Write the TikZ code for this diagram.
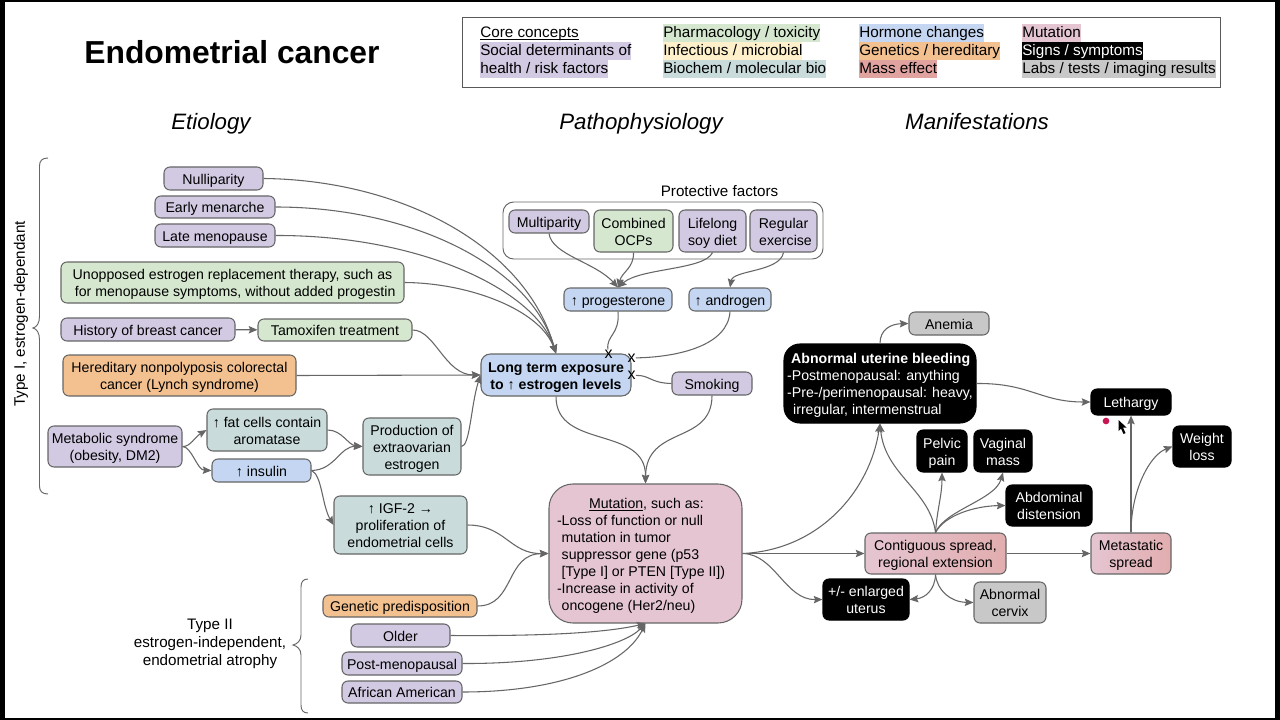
\documentclass[tikz,border=0pt]{standalone}
\usepackage{fontspec}
\setmainfont{Liberation Sans}
\usetikzlibrary{arrows.meta}
\definecolor{cpurple}{HTML}{D2CAE2}
\definecolor{cgreen}{HTML}{D5E8CF}
\definecolor{cblue}{HTML}{C4D6F1}
\definecolor{corange}{HTML}{F3C08F}
\definecolor{cteal}{HTML}{C9DCDB}
\definecolor{cpink}{HTML}{E5C5D2}
\definecolor{cgrey}{HTML}{C8C8C8}
\definecolor{cred}{HTML}{E0A3A0}
\definecolor{cyellow}{HTML}{FDF0CB}
\definecolor{cedge}{HTML}{666666}
\tikzset{
  bx/.style={draw=cedge,line width=0.8pt,rounded corners=4.5pt,align=center,inner sep=0pt,font=\fontsize{10.6}{12.7}\selectfont},
  purple/.style={bx,fill=cpurple},
  green/.style={bx,fill=cgreen},
  blue/.style={bx,fill=cblue},
  orange/.style={bx,fill=corange},
  teal/.style={bx,fill=cteal},
  pink/.style={bx,fill=cpink},
  grey/.style={bx,fill=cgrey},
  spread/.style={bx,left color=cpink,right color=cred!70!cpink},
  sign/.style={bx,draw=black,fill=black,text=white},
  conn/.style={draw=cedge,line width=0.8pt,-{Stealth[length=6.5pt,width=5.5pt,inset=1pt]}},
  plain/.style={draw=cedge,line width=0.8pt},
  brace/.style={draw=cedge,line width=0.7pt},
  lg/.style={anchor=west,inner sep=0pt,text height=10.5pt,text depth=3pt,font=\fontsize{11.45}{13.5}\selectfont},
  hd/.style={anchor=base,font=\fontsize{16.7}{20}\selectfont\itshape},
  lblb/.style={align=center,font=\fontsize{11.4}{13.5}\selectfont},
  cross/.style={inner sep=0pt,font=\fontsize{12}{12}\selectfont}
}
% underline that stays close to the baseline
\newcommand\ulin[1]{\setbox0\hbox{#1}\rlap{\rule[-1.6pt]{\wd0}{0.6pt}}\box0 }
% box given by its pixel corners
\newcommand\pbox[7]{%
  \pgfmathsetmacro\pbw{(#5-#3)*0.75}\pgfmathsetmacro\pbh{(#6-#4)*0.75}%
  \node[#2,minimum width=\pbw pt,minimum height=\pbh pt] (#1) at ({(#3+#5)/2},{(#4+#6)/2}) {\rule{0pt}{11pt}#7\rule[-2.4pt]{0pt}{0pt}};}
\begin{document}
\begin{tikzpicture}[x=0.75pt,y=-0.75pt]
\useasboundingbox (0,0) rectangle (1280,720);
\fill[white] (0,0) rectangle (1280,720);
\fill[black] (0,0) rectangle (5,720);
\fill[black] (1275,0) rectangle (1280,720);
\fill[black] (0,718) rectangle (1280,720);
\fill[black] (0,0) rectangle (1280,2.5);
% title
\node[font=\fontsize{23.85}{28}\selectfont\bfseries] (title) at (232,52) {Endometrial cancer};
% legend
\node[draw=black!65,line width=0.7pt,minimum width=568.5pt,minimum height=53pt,inner sep=0pt] (legend) at (841,52.5) {};
\node[lg,fill=cpurple] (l2) at (480,51) {Social determinants of};
\node[lg,fill=cpurple] (l3) at (480,69) {health / risk factors};
\node[lg] (l1) at (480,33) {\ulin{Core concepts}};
\node[lg,fill=cgreen] (l4) at (663,33) {Pharmacology / toxicity};
\node[lg,fill=cyellow] (l5) at (663,51) {Infectious / microbial};
\node[lg,fill=cteal] (l6) at (663,69) {Biochem / molecular bio};
\node[lg,fill=cblue] (l7) at (859,33) {Hormone changes};
\node[lg,fill=corange] (l8) at (859,51) {Genetics / hereditary};
\node[lg,fill=cred] (l9) at (859,69) {Mass effect};
\node[lg,fill=cpink] (l10) at (1022,33) {Mutation};
\node[lg,fill=black,text=white] (l11) at (1022,51) {Signs / symptoms};
\node[lg,fill=cgrey] (l12) at (1022,69) {Labs / tests / imaging results};
% headers
\node[hd] (h1) at (211,129.5) {Etiology};
\node[hd] (h2) at (641,129.5) {Pathophysiology};
\node[hd] (h3) at (977,129.5) {Manifestations};
% braces
\draw[brace] (48,158) .. controls (42,158) and (39.5,161) .. (39.5,166) -- (39.5,316) .. controls (39.5,323) and (37,327) .. (33,328) .. controls (37,329) and (39.5,333) .. (39.5,340) -- (39.5,486) .. controls (39.5,491) and (42,494) .. (48,494);
\draw[brace] (308,579) .. controls (303,579) and (301,582) .. (301,587) -- (301,635) .. controls (301,641) and (297,644) .. (293,645) .. controls (297,646) and (301,649) .. (301,655) -- (301,705) .. controls (301,710) and (303,713) .. (308,713);
\node[rotate=90,lblb] (t1) at (21,314) {Type I, estrogen-dependant};
\node[lblb] (t2) at (210,644) {Type II\\estrogen-independent,\\endometrial atrophy};
% protective container
\node[draw=cedge,line width=0.7pt,rounded corners=8pt,minimum width=240pt,minimum height=42.75pt,inner sep=0pt] (prot) at (663,230.5) {};
\node[lblb] (protl) at (719.5,191.5) {Protective factors};
% boxes
\pbox{null}{purple}{164}{167}{263}{190}{Nulliparity}
\pbox{early}{purple}{155}{196}{275}{218}{Early menarche}
\pbox{late}{purple}{155}{224}{275}{247}{Late menopause}
\pbox{unop}{green}{61}{262}{404}{303}{Unopposed estrogen replacement therapy, such as\\\hspace*{4pt}for menopause symptoms, without added progestin}
\pbox{hist}{purple}{61}{318}{235}{341}{History of breast cancer}
\pbox{tamo}{green}{258}{319}{412}{341}{Tamoxifen treatment}
\pbox{lynch}{orange}{63}{355}{296}{396}{Hereditary nonpolyposis colorectal\\cancer (Lynch syndrome)}
\pbox{meta}{purple}{48}{426}{182}{467}{Metabolic syndrome\\(obesity, DM2)}
\pbox{fat}{teal}{207}{409}{327}{451}{↑ fat cells contain\\aromatase}
\pbox{ins}{blue}{212}{459}{311}{482}{↑ insulin}
\pbox{prod}{teal}{363}{418}{461}{475}{Production of\\extraovarian\\estrogen}
\pbox{igf}{teal}{334}{496}{467}{554}{↑ IGF-2 →\\proliferation of\\endometrial cells}
\pbox{gene}{orange}{323}{595}{477}{617}{Genetic predisposition}
\pbox{old}{purple}{351}{624}{450}{647}{Older}
\pbox{post}{purple}{342}{652}{462}{675}{Post-menopausal}
\pbox{afr}{purple}{342}{681}{462}{703}{African American}
\pbox{muta}{pink,rounded corners=18pt,align=left}{549}{484}{742}{623}{\hspace*{24pt}\ulin{Mutation}, such as:\\-Loss of function or null\\\hspace*{3.5pt}mutation in tumor\\\hspace*{3.5pt}suppressor gene (p53\\\hspace*{3.5pt}[Type I] or PTEN [Type II])\rule{6.7pt}{0pt}\\-Increase in activity of\\\hspace*{3.5pt}oncogene (Her2/neu)}
\pbox{multi}{purple}{509}{210}{589}{233}{Multiparity}
\pbox{ocp}{green}{594}{210}{673}{252}{Combined\\OCPs}
\pbox{soy}{purple}{679}{210}{746}{252}{Lifelong\\soy diet}
\pbox{exer}{purple}{750}{210}{817}{252}{Regular\\\hspace*{3pt}exercise}
\pbox{prog}{blue}{564}{288}{672}{311}{↑ progesterone}
\pbox{andr}{blue}{689}{288}{771}{311}{↑ androgen}
\pbox{long}{blue,rounded corners=7pt}{481}{354}{631}{396}{\bfseries Long term exposure\\\bfseries to ↑ estrogen levels}
\pbox{smok}{purple}{672}{372}{752}{395}{Smoking}
\pbox{anem}{grey}{909}{312}{989}{335}{Anemia}
\pbox{aub}{sign,rounded corners=12pt,align=left}{784}{344}{976}{423}{\hspace*{3pt}\bfseries Abnormal uterine bleeding\\-Postmenopausal: anything\\-Pre-/perimenopausal: heavy,\\\hspace*{4.5pt}irregular, intermenstrual}
\pbox{leth}{sign}{1091}{389}{1171}{415}{Lethargy}
\pbox{pelv}{sign}{917}{430}{967}{472}{Pelvic\\pain}
\pbox{vagi}{sign}{974}{430}{1032}{472}{Vaginal\\mass}
\pbox{abdo}{sign}{1006}{485}{1092}{526}{Abdominal\\distension}
\pbox{weig}{sign}{1173}{426}{1231}{467}{Weight\\loss}
\pbox{cont}{spread}{865}{533}{1006}{574}{Contiguous spread,\\regional extension}
\pbox{mets}{spread}{1091}{533}{1171}{574}{Metastatic\\spread}
\pbox{enla}{sign}{823}{579}{909}{620}{+/- enlarged\\uterus}
\pbox{cerv}{grey}{974}{582}{1046}{623}{Abnormal\\cervix}
% blocked-pathway marks
\node[cross] (x1) at (608.5,354) {x};
\node[cross] (x2) at (631.5,358) {x};
\node[cross] (x3) at (631.5,375.5) {x};
% connectors into long-term exposure
\draw[conn] (null.east) .. controls (400,180) and (525,245) .. (long.north);
\draw[conn] (early.east) .. controls (410,207) and (530,265) .. (long.north);
\draw[conn] (late.east) .. controls (420,235) and (535,290) .. (long.north);
\draw[conn] (unop.east) .. controls (470,283) and (540,310) .. (long.north);
\draw[conn] (tamo.east) .. controls (435,330) and (445,375) .. (long.west);
\draw[conn] (lynch.east) -- (long.west);
\draw[conn] (prod.east) .. controls (470,446) and (471,405) .. (long.west);
\draw[conn] (hist) -- (tamo);
\draw[conn] (meta.east) .. controls (190,447) and (195,437) .. (fat.west);
\draw[conn] (meta.east) .. controls (192,447) and (197,470) .. (ins.west);
\draw[conn] (fat.east) .. controls (342,430) and (348,445) .. (prod.west);
\draw[conn] (ins.east) .. controls (335,470) and (340,446) .. (prod.west);
\draw[conn] (ins.east) .. controls (322,475) and (322,505) .. (igf.west);
% into mutation
\draw[conn] (igf.east) .. controls (505,525) and (510,554) .. (muta.west);
\draw[conn] (gene.east) .. controls (515,606) and (505,554) .. (muta.west);
\draw[conn] (old.east) .. controls (530,636) and (600,634) .. (muta.south);
\draw[conn] (post.east) .. controls (560,664) and (625,645) .. (muta.south);
\draw[conn] (afr.east) .. controls (560,692) and (625,665) .. (muta.south);
\draw[conn] (long.south) .. controls (556,450) and (646,425) .. (muta.north);
\draw[conn] (smok.south) .. controls (712,445) and (646,425) .. (muta.north);
% protective factors
\draw[conn] (multi.south) .. controls (552,255) and (595,262) .. (prog.north);
\draw[conn] (ocp.south) .. controls (634,268) and (622,272) .. (prog.north);
\draw[conn] (soy.south) .. controls (705,270) and (640,268) .. (prog.north);
\draw[conn] (exer.south) .. controls (780,272) and (733,270) .. (andr.north);
\draw[plain] (prog.south) .. controls (620,335) and (606,335) .. (x1);
\draw[plain] (andr.south) .. controls (728,345) and (680,357) .. (x2);
\draw[plain] (smok.west) .. controls (650,383) and (650,375) .. (x3);
% manifestations
\draw[conn] (muta.east) .. controls (820,550) and (870,490) .. (aub.south);
\draw[conn] (muta.east) -- (cont.west);
\draw[conn] (muta.east) .. controls (775,554) and (785,600) .. (enla.west);
\draw[conn] (cont.north) .. controls (930,490) and (885,475) .. (aub.south);
\draw[conn] (cont.north) .. controls (937,510) and (942,495) .. (pelv.south);
\draw[conn] (cont.north) .. controls (945,510) and (995,500) .. (vagi.south);
\draw[conn] (cont.north) .. controls (945,515) and (975,506) .. (abdo.west);
\draw[conn] (cont.east) -- (mets.west);
\draw[conn] (cont.south) .. controls (935,590) and (925,598) .. (enla.east);
\draw[conn] (cont.south) .. controls (937,590) and (950,602) .. (cerv.west);
\draw[conn] (aub.north) .. controls (880,330) and (890,324) .. (anem.west);
\draw[conn] (aub.east) .. controls (1030,383) and (1040,402) .. (leth.west);
\draw[conn] (mets.north) -- (leth.south);
\draw[conn] (mets.north) .. controls (1131,490) and (1150,455) .. (weig.west);
% recording pointer
\fill[color={rgb,255:red,200;green,20;blue,80}] (1106,421) circle (2.5pt);
\fill[black] (1118.5,420) -- (1118.5,431) -- (1121,428.5) -- (1123.5,434) -- (1125.5,433) -- (1123,427.5) -- (1126.5,427.5) -- cycle;
\end{tikzpicture}
\end{document}
